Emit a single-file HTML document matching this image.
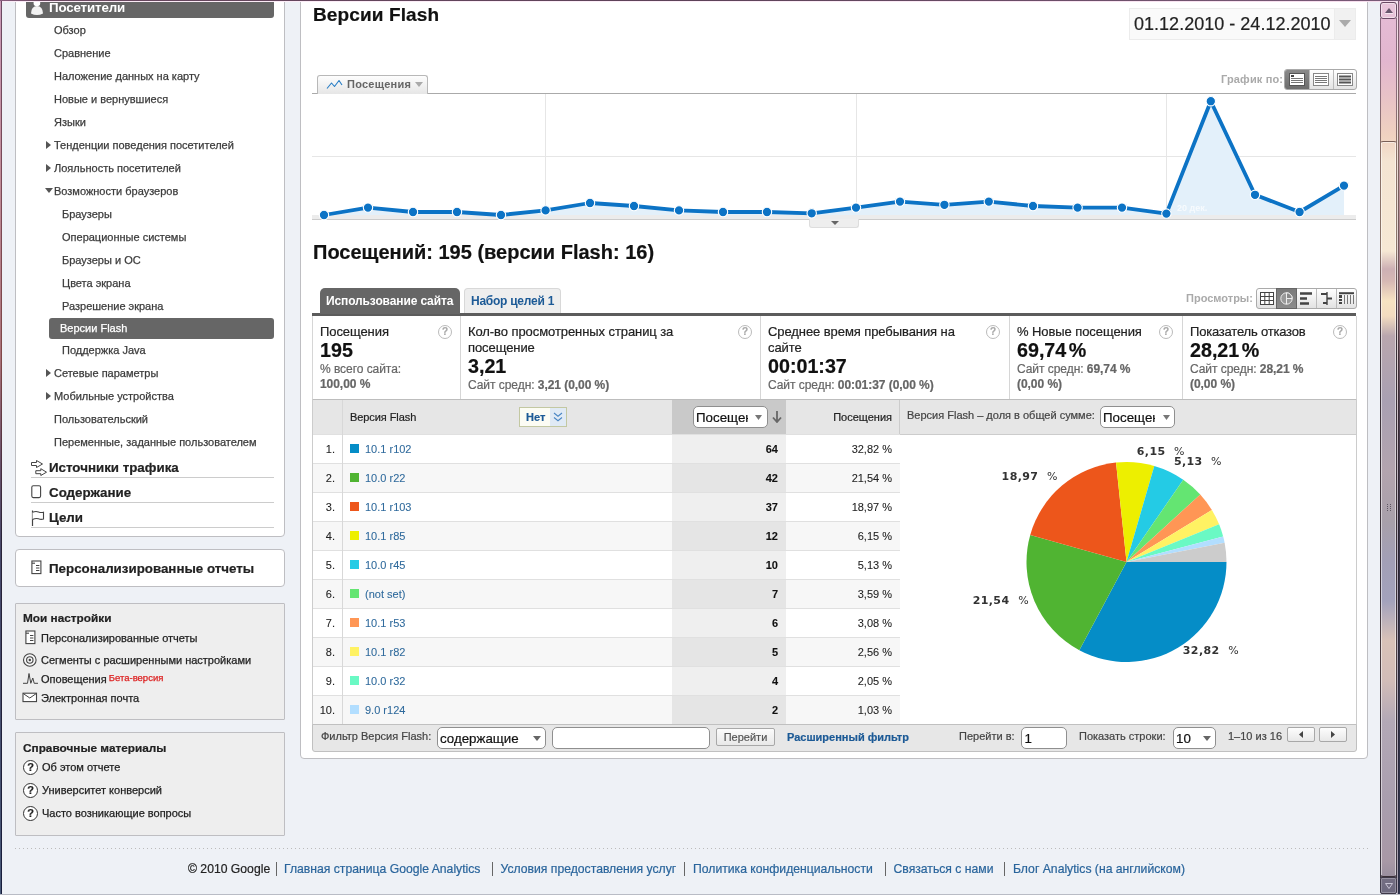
<!DOCTYPE html>
<html lang="ru">
<head>
<meta charset="utf-8">
<title>Версии Flash - Google Analytics</title>
<style>
*{box-sizing:border-box;margin:0;padding:0}
html,body{width:1400px;height:895px;overflow:hidden}
body{position:relative;background:#eef1f6;font-family:"Liberation Sans",Arial,sans-serif;font-size:12px;color:#333;-webkit-text-stroke:.2px}
.abs{position:absolute}
a{color:#1c62a0;text-decoration:none}
/* window frame */
#frameL{left:1px;top:0;width:1px;height:895px;background:linear-gradient(to bottom,#6a4a62 0,#7a4a58 20%,#804848 40%,#4a3040 52%,#2a2438 60%,#181e3c 100%)}
#frameL2{left:0;top:0;width:1px;height:895px;background:linear-gradient(to bottom,#c99ab8 0,#c08c98 20%,#a87078 40%,#66506a 52%,#46486a 62%,#485878 100%)}
#frameT{left:0;top:0;width:1400px;height:1px;background:linear-gradient(to right,#8a6080,#6a4860 3%,#5c4258 50%,#7a5a78)}
#frameT2{left:2px;top:1px;width:1396px;height:1px;background:linear-gradient(to right,#fbeaf6,#fdeef8 50%,#f6dcec)}
#frameB{left:0;top:894px;width:1400px;height:1px;background:#b9bcc5}
#frameR{left:1398px;top:0;width:1px;height:895px;background:linear-gradient(to bottom,#7a5870,#806860 15%,#6a5058 32%,#403038 40%,#2a2430 60%,#2a2c44)}
#frameR3{left:1399px;top:0;width:1px;height:895px;background:linear-gradient(to bottom,#d8a8c8 0,#c8a0a8 15%,#a07880 32%,#504050 45%,#3a3448 60%,#30344c)}
#frameR2{left:1397px;top:1px;width:1px;height:893px;background:linear-gradient(to bottom,#f6dcea,#f0e0d8 15%,#d8c8cc 40%,#b0a8b8 60%,#a8a0b0)}
/* scrollbar */
#sb{left:1381px;top:1px;width:15px;height:893px;
background:linear-gradient(to bottom,#e6bdd6 0,#e2b6cf 60px,#e9c4c6 100px,#f0d2c0 135px,#f4e4d2 160px,#f6e8d4 250px,#cdb0b4 268px,#d6b8b4 280px,#f7e3c2 300px,#f3dcc0 315px,#b9a6ae 335px,#a9a0b2 400px,#b3a4ae 470px,#a8a0aa 520px,#a29fb6 560px,#a3a2bc 600px,#d9c2b8 640px,#d2bcb8 680px,#b3a8b6 720px,#a99eae 800px,#a898a6 860px,#8a8496 893px)}
.sbB{top:18px;width:1px;height:860px;background:linear-gradient(to bottom,#8a6a80 0,#8a6c78 83px,#8a7068 128px,#8a7468 233px,#5a4850 273px,#3a3038 323px,#3a3038 583px,#4a3c40 633px,#3a3038 703px,#3a3440 860px)}
.sbH{top:142px;width:1px;height:733px;background:rgba(255,255,255,.5)}
#sbThumb{left:1380px;top:141px;width:17px;height:736px;border:1px solid transparent;border-top-color:#7a6058;border-bottom-color:#3a3038;border-radius:3px;box-shadow:inset 0 1px 0 rgba(255,255,255,.5)}
#sbUp{left:1380px;top:2px;width:17px;height:17px;border:1px solid #6a4a64;border-radius:3px;box-shadow:inset 0 0 0 1px rgba(255,255,255,.45);background:rgba(255,255,255,.12)}
#sbDn{left:1380px;top:877px;width:17px;height:17px;border:1px solid #3e3848;border-radius:2px;background:rgba(80,78,104,.5);box-shadow:inset 0 0 0 1px rgba(255,255,255,.25)}
/* sidebar */
.panel{border:1px solid #bebec2;border-radius:4px;background:#fff}
#nav{left:15px;top:-10px;width:270px;height:547px}
#navHead{left:26px;top:2px;width:248px;height:16px;background:#666;border-radius:0 0 3px 3px;color:#fff;font-weight:bold;font-size:13.33px}
.ni{left:54px;font-size:11px;color:#3c3c3c;white-space:nowrap;line-height:14px;-webkit-text-stroke-width:.25px}
.ni.s{left:62px}
.tri{left:46px;width:0;height:0;border-style:solid}
.tri.r{border-width:4px 0 4px 5px;border-color:transparent transparent transparent #555}
.tri.d{border-width:5px 4px 0 4px;border-color:#555 transparent transparent transparent}
.sec{left:49px;font-size:13.33px;font-weight:bold;color:#222;white-space:nowrap;line-height:16px}
.secline{left:31px;width:243px;height:1px;background:#ccc}
.hq{width:15px;height:15px;border:1px solid #333;border-radius:50%;background:#fff;color:#222;font-size:11px;font-weight:bold;line-height:13px;text-align:center}
.pt{left:23px;font-weight:bold;font-size:11.8px;color:#222;line-height:14px;white-space:nowrap}
/* main */
#main{left:300px;top:-10px;width:1068px;height:769px}
h1,h2{font-size:20px;font-weight:bold;color:#111;white-space:nowrap;line-height:20px}
</style>
</head>
<body>
<!-- page panels -->
<div id="nav" class="abs panel"></div>
<div id="navHead" class="abs"><span class="abs" style="left:23px;top:-2px;line-height:16px;letter-spacing:-.15px;-webkit-text-stroke:0">Посетители</span>
<svg class="abs" style="left:3px;top:-2px" width="16" height="18" viewBox="0 0 16 18"><path d="M4.6 0H11.2V3.5Q11.2 6.2 7.9 6.2Q4.6 6.2 4.6 3.5Z" fill="#fff"/><path d="M2 13.5Q2.3 6 8 6Q13.7 6 14 13.5Q8 16.6 2 13.5Z" fill="#f2f2f2"/></svg></div>

<div class="abs ni" style="top:23px">Обзор</div>
<div class="abs ni" style="top:46px">Сравнение</div>
<div class="abs ni" style="top:69px">Наложение данных на карту</div>
<div class="abs ni" style="top:92px">Новые и вернувшиеся</div>
<div class="abs ni" style="top:115px">Языки</div>
<div class="abs tri r" style="top:141px"></div><div class="abs ni" style="top:138px">Тенденции поведения посетителей</div>
<div class="abs tri r" style="top:164px"></div><div class="abs ni" style="top:161px">Лояльность посетителей</div>
<div class="abs tri d" style="top:188px;left:45px"></div><div class="abs ni" style="top:184px">Возможности браузеров</div>
<div class="abs ni s" style="top:207px">Браузеры</div>
<div class="abs ni s" style="top:230px">Операционные системы</div>
<div class="abs ni s" style="top:253px">Браузеры и ОС</div>
<div class="abs ni s" style="top:276px">Цвета экрана</div>
<div class="abs ni s" style="top:299px">Разрешение экрана</div>
<div class="abs" style="left:49px;top:318px;width:225px;height:21px;background:#666;border-radius:3px"></div>
<div class="abs ni" style="left:60px;top:321px;color:#fff">Версии Flash</div>
<div class="abs ni s" style="top:343px">Поддержка Java</div>
<div class="abs tri r" style="top:369px"></div><div class="abs ni" style="top:366px">Сетевые параметры</div>
<div class="abs tri r" style="top:392px"></div><div class="abs ni" style="top:389px">Мобильные устройства</div>
<div class="abs ni" style="top:412px">Пользовательский</div>
<div class="abs ni" style="top:435px">Переменные, заданные пользователем</div>

<div class="abs sec" style="top:460px">Источники трафика</div><div class="abs secline" style="top:477px"></div>
<div class="abs sec" style="top:485px">Содержание</div><div class="abs secline" style="top:502px"></div>
<div class="abs sec" style="top:510px">Цели</div><div class="abs secline" style="top:527px"></div>

<svg class="abs" style="left:30px;top:459px" width="18" height="18" viewBox="0 0 18 18"><path d="M1.5 3.5H6.5V1.5L12.5 5L6.5 8.5V6.5H1.5Z M5.8 11.7H10.8V9.7L16.5 13.2L10.8 16.5V14.7H5.8Z" fill="#fff" stroke="#444" stroke-width="1" stroke-linejoin="round"/></svg>
<svg class="abs" style="left:31px;top:485px" width="11" height="14" viewBox="0 0 11 14"><rect x=".8" y=".8" width="8.8" height="11.8" rx="1.5" fill="#fff" stroke="#444" stroke-width="1.1"/></svg>
<svg class="abs" style="left:30px;top:509px" width="16" height="18" viewBox="0 0 16 18"><path d="M2.5 1.5V17" stroke="#444" stroke-width="1.2" fill="none"/><path d="M2.5 3.2Q6 2 8.5 3Q11 4 13.5 3.2V10Q11 10.8 8.5 9.8Q6 8.8 2.5 10.5" fill="#fff" stroke="#444" stroke-width="1.1"/></svg>
<!-- custom reports panel -->
<div class="abs panel" style="left:15px;top:549px;width:270px;height:38px"></div>
<div class="abs sec" style="top:561px">Персонализированные отчеты</div>

<!-- settings panel -->
<div class="abs panel" style="left:15px;top:603px;width:270px;height:117px;background:#eee;border-radius:1px"></div>
<div class="abs pt" style="top:611px">Мои настройки</div>
<div class="abs ni" style="left:41px;top:631px;color:#222">Персонализированные отчеты</div>
<div class="abs ni" style="left:41px;top:653px;color:#222">Сегменты с расширенными настройками</div>
<div class="abs ni" style="left:41px;top:672px;color:#222">Оповещения <span style="font-size:9.5px;color:#d22;position:relative;top:-2px;left:-1px">Бета-версия</span></div>
<div class="abs ni" style="left:41px;top:691px;color:#222">Электронная почта</div>

<svg class="abs" style="left:25px;top:630px" width="11" height="15" viewBox="0 0 11 15"><rect x=".9" y="1" width="9" height="12.6" fill="#fff" stroke="#444" stroke-width="1.1"/><path d="M1 3.2H4" stroke="#444" stroke-width="1.1"/><path d="M5 5.5H8.4M5 8H8.4M5 10.5H8.4" stroke="#444" stroke-width="1"/></svg>
<svg class="abs" style="left:22px;top:652px" width="16" height="16" viewBox="0 0 16 16"><circle cx="7.8" cy="8" r="6.3" fill="#f6f6f6" stroke="#444" stroke-width="1.1"/><circle cx="7.8" cy="8" r="3.2" fill="none" stroke="#444" stroke-width="1.1"/><circle cx="7.8" cy="8" r="1.2" fill="#444"/></svg>
<svg class="abs" style="left:22px;top:671px" width="17" height="14" viewBox="0 0 17 14"><path d="M1 12.3H5.5L7 2.5L8.8 12.3L10.8 7L12.2 12.3H16" fill="none" stroke="#444" stroke-width="1"/></svg>
<svg class="abs" style="left:22px;top:692px" width="16" height="11" viewBox="0 0 16 11"><rect x="1" y="1.2" width="13.5" height="8.4" fill="#fff" stroke="#444" stroke-width="1.1"/><path d="M1.3 1.6L7.8 6L14.2 1.6" fill="none" stroke="#444" stroke-width="1"/></svg>
<svg class="abs" style="left:31px;top:560px" width="11" height="15" viewBox="0 0 11 15"><rect x=".9" y="1" width="9" height="12.6" fill="#fff" stroke="#444" stroke-width="1.1"/><path d="M1 3.2H4" stroke="#444" stroke-width="1.1"/><path d="M5 5.5H8.4M5 8H8.4M5 10.5H8.4" stroke="#444" stroke-width="1"/></svg>
<!-- help panel -->
<div class="abs panel" style="left:15px;top:732px;width:270px;height:104px;background:#eee;border-radius:1px"></div>
<div class="abs pt" style="top:741px">Справочные материалы</div>
<div class="abs ni" style="left:42px;top:760px;color:#222">Об этом отчете</div>
<div class="abs ni" style="left:42px;top:783px;color:#222">Университет конверсий</div>
<div class="abs ni" style="left:42px;top:806px;color:#222">Часто возникающие вопросы</div>

<div class="abs hq" style="left:23px;top:760px">?</div>
<div class="abs hq" style="left:23px;top:783px">?</div>
<div class="abs hq" style="left:23px;top:806px">?</div>
<!-- main panel -->
<div id="main" class="abs panel"></div>
<h1 class="abs" style="left:313px;top:5px;font-size:19px;letter-spacing:.12px">Версии Flash</h1>
<h2 class="abs" style="left:313px;top:242px">Посещений: 195 (версии Flash: 16)</h2>

<!--MAIN-CONTENT-->
<!-- date range -->
<div class="abs" style="left:1129px;top:8px;width:227px;height:32px;border:1px solid #ececec;background:#fafafa"></div>
<div class="abs" style="left:1334px;top:9px;width:21px;height:30px;background:#f1f1f1;border-left:1px solid #ececec"></div>
<div class="abs" style="left:1134px;top:14px;font-size:18px;line-height:21px;color:#222;white-space:nowrap;letter-spacing:.02px">01.12.2010 - 24.12.2010</div>
<svg class="abs" style="left:1339px;top:20px" width="12" height="7" viewBox="0 0 12 7"><path d="M0 0H12L6 7Z" fill="#aaa"/></svg>

<!-- chart -->
<div class="abs" style="left:312px;top:93px;width:1044px;height:1px;background:#aaa"></div>
<div class="abs" style="left:317px;top:75px;width:111px;height:19px;border:1px solid #b8b8b8;border-bottom:0;border-radius:3px 3px 0 0;background:linear-gradient(#fdfdfd,#e6e6e6)"></div>
<svg class="abs" style="left:326px;top:79px" width="17" height="11" viewBox="0 0 17 11"><path d="M1 9.5 L5.5 4 L8.5 7.5 L13 1.5 L16 6" fill="none" stroke="#2b7fc6" stroke-width="1.15" stroke-linejoin="round"/></svg>
<div class="abs" style="left:347px;top:77px;font-size:11px;font-weight:bold;color:#666;line-height:14px;white-space:nowrap;letter-spacing:.25px;-webkit-text-stroke:0">Посещения</div>
<svg class="abs" style="left:415px;top:82px" width="8" height="5" viewBox="0 0 8 5"><path d="M0 0H8L4 5Z" fill="#aaa"/></svg>
<div class="abs" style="left:1221px;top:72px;-webkit-text-stroke:0;font-size:11px;font-weight:bold;color:#aaa;line-height:14px;white-space:nowrap;letter-spacing:.15px">График по:</div>
<div class="abs" style="left:1284px;top:69px;width:73px;height:21px;border:1px solid #aaa;border-radius:3px;background:linear-gradient(#fff,#e4e4e4)"></div>
<div class="abs" style="left:1285px;top:70px;width:24px;height:19px;background:linear-gradient(#8a8a8a,#6e6e6e);border-radius:2px 0 0 2px"></div>
<div class="abs" style="left:1309px;top:70px;width:1px;height:19px;background:#bbb"></div>
<div class="abs" style="left:1333px;top:70px;width:1px;height:19px;background:#bbb"></div>
<svg class="abs" style="left:1289px;top:73px" width="16" height="13" viewBox="0 0 16 13"><rect x=".5" y=".5" width="15" height="12" fill="#fff" stroke="#555"/><rect x="2" y="2" width="3" height="2" fill="#444"/><path d="M2 5.5H14M2 7.5H14M2 9.5H14" stroke="#777" stroke-width="1"/></svg>
<svg class="abs" style="left:1313px;top:73px" width="16" height="13" viewBox="0 0 16 13"><rect x=".5" y=".5" width="15" height="12" fill="#fff" stroke="#888"/><path d="M2 3.5H14M2 5.5H14M2 7.5H14M2 9.5H14" stroke="#777" stroke-width="1"/></svg>
<svg class="abs" style="left:1337px;top:73px" width="16" height="13" viewBox="0 0 16 13"><rect x=".5" y=".5" width="15" height="12" fill="#fff" stroke="#888"/><path d="M2 3.5H14M2 6.5H14M2 9.5H14" stroke="#555" stroke-width="2"/></svg>

<svg class="abs" style="left:312px;top:93px" width="1044" height="136" viewBox="0 0 1044 136"><path d="M0 63.5H1044" stroke="#e6e6e6" stroke-width="1"/><path d="M233.5 1V122" stroke="#e6e6e6" stroke-width="1"/><path d="M544.5 1V122" stroke="#e6e6e6" stroke-width="1"/><path d="M854.5 1V122" stroke="#e6e6e6" stroke-width="1"/><rect x="0" y="122" width="1044" height="4" fill="#ececec"/><rect x="0" y="126" width="1044" height="1" fill="#ccc"/><path d="M12 122 L56 114.6 L101 119 L145 119 L189 122 L233.6 117.4 L278 110 L322 113 L367 117.4 L411 119 L455 119 L499.7 120.3 L544 114.6 L588 108.6 L632.4 111.8 L676.8 108.6 L721 113 L765.6 114.6 L810 114.6 L854.4 120.6 L898.8 8.2 L943 101.8 L987.6 119 L1032 92.6 L1032 122 L12 122 Z" fill="#e3f0fa"/><path d="M12 122 L56 114.6 L101 119 L145 119 L189 122 L233.6 117.4 L278 110 L322 113 L367 117.4 L411 119 L455 119 L499.7 120.3 L544 114.6 L588 108.6 L632.4 111.8 L676.8 108.6 L721 113 L765.6 114.6 L810 114.6 L854.4 120.6 L898.8 8.2 L943 101.8 L987.6 119 L1032 92.6" fill="none" stroke="#0c73c5" stroke-width="3.8" stroke-linejoin="round" stroke-linecap="round"/><circle cx="12" cy="122" r="4.7" fill="#0c73c5" stroke="#fff" stroke-width="1.1"/><circle cx="56" cy="114.6" r="4.7" fill="#0c73c5" stroke="#fff" stroke-width="1.1"/><circle cx="101" cy="119" r="4.7" fill="#0c73c5" stroke="#fff" stroke-width="1.1"/><circle cx="145" cy="119" r="4.7" fill="#0c73c5" stroke="#fff" stroke-width="1.1"/><circle cx="189" cy="122" r="4.7" fill="#0c73c5" stroke="#fff" stroke-width="1.1"/><circle cx="233.6" cy="117.4" r="4.7" fill="#0c73c5" stroke="#fff" stroke-width="1.1"/><circle cx="278" cy="110" r="4.7" fill="#0c73c5" stroke="#fff" stroke-width="1.1"/><circle cx="322" cy="113" r="4.7" fill="#0c73c5" stroke="#fff" stroke-width="1.1"/><circle cx="367" cy="117.4" r="4.7" fill="#0c73c5" stroke="#fff" stroke-width="1.1"/><circle cx="411" cy="119" r="4.7" fill="#0c73c5" stroke="#fff" stroke-width="1.1"/><circle cx="455" cy="119" r="4.7" fill="#0c73c5" stroke="#fff" stroke-width="1.1"/><circle cx="499.7" cy="120.3" r="4.7" fill="#0c73c5" stroke="#fff" stroke-width="1.1"/><circle cx="544" cy="114.6" r="4.7" fill="#0c73c5" stroke="#fff" stroke-width="1.1"/><circle cx="588" cy="108.6" r="4.7" fill="#0c73c5" stroke="#fff" stroke-width="1.1"/><circle cx="632.4" cy="111.8" r="4.7" fill="#0c73c5" stroke="#fff" stroke-width="1.1"/><circle cx="676.8" cy="108.6" r="4.7" fill="#0c73c5" stroke="#fff" stroke-width="1.1"/><circle cx="721" cy="113" r="4.7" fill="#0c73c5" stroke="#fff" stroke-width="1.1"/><circle cx="765.6" cy="114.6" r="4.7" fill="#0c73c5" stroke="#fff" stroke-width="1.1"/><circle cx="810" cy="114.6" r="4.7" fill="#0c73c5" stroke="#fff" stroke-width="1.1"/><circle cx="854.4" cy="120.6" r="4.7" fill="#0c73c5" stroke="#fff" stroke-width="1.1"/><circle cx="898.8" cy="8.2" r="4.7" fill="#0c73c5" stroke="#fff" stroke-width="1.1"/><circle cx="943" cy="101.8" r="4.7" fill="#0c73c5" stroke="#fff" stroke-width="1.1"/><circle cx="987.6" cy="119" r="4.7" fill="#0c73c5" stroke="#fff" stroke-width="1.1"/><circle cx="1032" cy="92.6" r="4.7" fill="#0c73c5" stroke="#fff" stroke-width="1.1"/><text x="865" y="117.5" font-size="9" font-weight="bold" fill="#fff" opacity=".7" stroke="none" font-family="Liberation Sans,sans-serif">20 дек.</text></svg>
<div class="abs" style="left:809px;top:219px;width:50px;height:9px;background:#eee;border:1px solid #ddd;border-top:0;border-radius:0 0 3px 3px"></div>
<svg class="abs" style="left:831px;top:221px" width="8" height="4" viewBox="0 0 8 4"><path d="M0 0H8L4 4Z" fill="#666"/></svg>

<!-- tabs -->
<div class="abs" style="left:312px;top:313px;width:1044px;height:3px;background:#5c5c5c"></div>
<div class="abs" style="left:320px;top:288px;width:140px;height:26px;background:#666;border-radius:5px 5px 0 0"></div>
<div class="abs" style="left:326px;top:294px;-webkit-text-stroke:0;font-size:12px;font-weight:bold;color:#fff;line-height:15px;white-space:nowrap;letter-spacing:-.12px" id="tab1">Использование сайта</div>
<div class="abs" style="left:464px;top:288px;width:97px;height:25px;background:#eee;border:1px solid #d8d8d8;border-bottom:0;border-radius:4px 4px 0 0"></div>
<div class="abs" style="left:471px;top:294px;-webkit-text-stroke:0;font-size:12px;font-weight:bold;color:#1c5a96;line-height:15px;white-space:nowrap;letter-spacing:-.25px" id="tab2">Набор целей 1</div>
<div class="abs" style="left:1186px;top:291px;-webkit-text-stroke:0;font-size:11px;font-weight:bold;color:#aaa;line-height:14px;white-space:nowrap">Просмотры:</div>
<div class="abs" style="left:1256px;top:288px;width:101px;height:21px;border:1px solid #aaa;border-radius:3px;background:linear-gradient(#fff,#e2e2e2)"></div>
<div class="abs" style="left:1276px;top:288px;width:21px;height:21px;background:linear-gradient(#7a7a7a,#8c8c8c);border:1px solid #666"></div>
<div class="abs" style="left:1316px;top:289px;width:1px;height:19px;background:#bbb"></div>
<div class="abs" style="left:1336px;top:289px;width:1px;height:19px;background:#bbb"></div>
<svg class="abs" style="left:1260px;top:292px" width="14" height="13" viewBox="0 0 14 13"><rect x=".5" y=".5" width="13" height="12" fill="#fff" stroke="#444"/><path d="M.5 4.5H13.5M.5 8.5H13.5M4.8 .5V12.5M9.2 .5V12.5" stroke="#444" stroke-width="1"/></svg>
<svg class="abs" style="left:1280px;top:292px" width="13" height="13" viewBox="0 0 13 13"><circle cx="6.5" cy="6.5" r="5.7" fill="#999" stroke="#eee" stroke-width="1"/><path d="M6.5 6.5V.8A5.7 5.7 0 0 1 12.2 6.5Z" fill="#888" stroke="#eee" stroke-width="1"/><path d="M6.5 .8V12.2" stroke="#eee" stroke-width="1"/></svg>
<svg class="abs" style="left:1300px;top:292px" width="13" height="13" viewBox="0 0 13 13"><path d="M0 1.5H12M0 6.5H7M0 11.5H9" stroke="#444" stroke-width="2.4"/></svg>
<svg class="abs" style="left:1320px;top:292px" width="13" height="13" viewBox="0 0 13 13"><path d="M7 0V13" stroke="#444" stroke-width="1.4"/><path d="M1 2H7M7 6.5H12M3 11H7" stroke="#444" stroke-width="2"/></svg>
<svg class="abs" style="left:1339px;top:292px" width="15" height="13" viewBox="0 0 15 13"><path d="M0 1.2H15" stroke="#444" stroke-width="2"/><path d="M1.5 3V6M1.5 7V9M1.5 10V12" stroke="#444" stroke-width="3" /><path d="M5.5 3V12M8.5 3V12M11.5 3V12M14.5 3V12" stroke="#777" stroke-width="1"/></svg>

<!-- metrics -->
<style>
.mb{top:316px;height:83px;border-left:1px solid #d6d6d6;padding:8px 0 0 7px;background:#fff}
.mb .l{font-size:13px;line-height:16px;color:#222;letter-spacing:-.08px}
.mb .v{font-size:19.7px;line-height:21px;font-weight:bold;color:#111;word-spacing:-3px}
.mb .s{font-size:12px;line-height:14.5px;color:#666;letter-spacing:-.05px;margin-top:1px}
.mb .s b{color:#666}
.q{width:14px;height:14px;border:1px solid #bbb;border-radius:50%;color:#aaa;font-size:10px;font-weight:bold;line-height:12px;text-align:center;background:#fff}
</style>
<div class="abs mb" style="left:312px;width:148px"><div class="l">Посещения</div><div class="v">195</div><div class="s">% всего сайта:<br><b>100,00 %</b></div></div>
<div class="abs mb" style="left:460px;width:300px"><div class="l">Кол-во просмотренных страниц за<br>посещение</div><div class="v">3,21</div><div class="s">Сайт средн: <b>3,21 (0,00 %)</b></div></div>
<div class="abs mb" style="left:760px;width:249px"><div class="l">Среднее время пребывания на<br>сайте</div><div class="v">00:01:37</div><div class="s">Сайт средн: <b>00:01:37 (0,00 %)</b></div></div>
<div class="abs mb" style="left:1009px;width:173px"><div class="l">% Новые посещения</div><div class="v">69,74 %</div><div class="s">Сайт средн: <b>69,74 %<br>(0,00 %)</b></div></div>
<div class="abs mb" style="left:1182px;width:175px;border-right:1px solid #d6d6d6"><div class="l" style="letter-spacing:-.2px">Показатель отказов</div><div class="v">28,21 %</div><div class="s">Сайт средн: <b>28,21 %<br>(0,00 %)</b></div></div>
<div class="abs q" style="left:438px;top:325px">?</div>
<div class="abs q" style="left:738px;top:325px">?</div>
<div class="abs q" style="left:986px;top:325px">?</div>
<div class="abs q" style="left:1159px;top:325px">?</div>
<div class="abs q" style="left:1333px;top:325px">?</div>

<!-- table -->
<style>
.th{top:399px;height:35px;background:#e6e6e6;border-top:1px solid #bdbdbd}
.row{left:313px;width:587px;height:29px;border-top:1px solid #e0e0e0;-webkit-text-stroke:.08px;font-size:11px;line-height:14px;color:#222}
.row .n{position:absolute;right:565px;top:7px;white-space:nowrap}
.row .sw{position:absolute;left:37px;top:9px;width:9px;height:9px}
.row .nm{position:absolute;left:52px;top:7px;color:#2f6a9c;white-space:nowrap}
.row .vc{position:absolute;left:359px;top:0;width:114px;height:28px}
.row .vv{position:absolute;right:122px;top:7px;font-weight:bold;color:#111}
.row .pc{position:absolute;right:8px;top:7px;white-space:nowrap}
.sel{background:#fff;border:1px solid #8f8f8f;border-radius:5px;font-size:13.33px;line-height:15px;color:#111;white-space:nowrap;overflow:hidden}
</style>
<div class="abs th" style="left:312px;width:1045px"></div>
<div class="abs" style="left:672px;top:400px;width:114px;height:34px;background:#c9c9c9"></div>
<div class="abs" style="left:899px;top:400px;width:1px;height:325px;background:#ccc"></div>
<div class="abs" style="left:312px;top:399px;width:1px;height:326px;background:#ccc"></div>
<div class="abs" style="left:1356px;top:399px;width:1px;height:326px;background:#ccc"></div>
<div class="abs" style="left:900px;top:434px;width:456px;height:1px;background:#ccc"></div>
<div class="abs" style="left:350px;top:410px;font-size:11px;line-height:14px;color:#222;white-space:nowrap;letter-spacing:-.08px">Версия Flash</div>
<div class="abs" style="left:519px;top:407px;width:48px;height:20px;border:1px solid #c3c8a2;background:#fcfcf4"></div>
<div class="abs" style="left:550px;top:408px;width:16px;height:18px;background:#e0eaf5"></div>
<div class="abs" style="left:526px;top:410px;font-size:11px;font-weight:bold;line-height:14px;color:#1c5a96">Нет</div>
<svg class="abs" style="left:553px;top:412px" width="10" height="10" viewBox="0 0 10 10"><path d="M1 1L5 4.2L9 1M1 5.5L5 8.7L9 5.5" fill="none" stroke="#4a86c4" stroke-width="1.1"/></svg>
<div class="abs sel" style="left:693px;top:406px;width:75px;height:22px;padding:3px 0 0 2px"><span style="display:inline-block;width:52px;overflow:hidden;vertical-align:top">Посещения</span></div>
<svg class="abs" style="left:755px;top:415px" width="7" height="5" viewBox="0 0 7 5"><path d="M0 0H7L3.5 5Z" fill="#777"/></svg>
<svg class="abs" style="left:772px;top:411px" width="10" height="12" viewBox="0 0 10 12"><path d="M5 0V10M1 6.5L5 11L9 6.5" fill="none" stroke="#666" stroke-width="1.8"/></svg>
<div class="abs" style="left:786px;top:410px;width:106px;text-align:right;font-size:11px;line-height:14px;color:#222;white-space:nowrap">Посещения</div>
<div class="abs" style="left:907px;top:408px;font-size:11px;line-height:14px;color:#444;white-space:nowrap">Версия Flash – доля в общей сумме:</div>
<div class="abs sel" style="left:1100px;top:406px;width:75px;height:22px;padding:3px 0 0 2px"><span style="display:inline-block;width:52px;overflow:hidden;vertical-align:top">Посещения</span></div>
<svg class="abs" style="left:1163px;top:415px" width="7" height="5" viewBox="0 0 7 5"><path d="M0 0H7L3.5 5Z" fill="#777"/></svg>

<div class="abs row" style="top:434px;background:#fff"><div class="vc" style="background:#efefef"></div><span class="n">1.</span><span class="sw" style="background:#058dc7"></span><span class="nm">10.1 r102</span><span class="vv">64</span><span class="pc">32,82 %</span></div>
<div class="abs row" style="top:463px;background:#f7f7f7"><div class="vc" style="background:#e5e5e5"></div><span class="n">2.</span><span class="sw" style="background:#50b432"></span><span class="nm">10.0 r22</span><span class="vv">42</span><span class="pc">21,54 %</span></div>
<div class="abs row" style="top:492px;background:#fff"><div class="vc" style="background:#efefef"></div><span class="n">3.</span><span class="sw" style="background:#ed561b"></span><span class="nm">10.1 r103</span><span class="vv">37</span><span class="pc">18,97 %</span></div>
<div class="abs row" style="top:521px;background:#f7f7f7"><div class="vc" style="background:#e5e5e5"></div><span class="n">4.</span><span class="sw" style="background:#edef00"></span><span class="nm">10.1 r85</span><span class="vv">12</span><span class="pc">6,15 %</span></div>
<div class="abs row" style="top:550px;background:#fff"><div class="vc" style="background:#efefef"></div><span class="n">5.</span><span class="sw" style="background:#24cbe5"></span><span class="nm">10.0 r45</span><span class="vv">10</span><span class="pc">5,13 %</span></div>
<div class="abs row" style="top:579px;background:#f7f7f7"><div class="vc" style="background:#e5e5e5"></div><span class="n">6.</span><span class="sw" style="background:#64e572"></span><span class="nm">(not set)</span><span class="vv">7</span><span class="pc">3,59 %</span></div>
<div class="abs row" style="top:608px;background:#fff"><div class="vc" style="background:#efefef"></div><span class="n">7.</span><span class="sw" style="background:#ff9655"></span><span class="nm">10.1 r53</span><span class="vv">6</span><span class="pc">3,08 %</span></div>
<div class="abs row" style="top:637px;background:#f7f7f7"><div class="vc" style="background:#e5e5e5"></div><span class="n">8.</span><span class="sw" style="background:#fff263"></span><span class="nm">10.1 r82</span><span class="vv">5</span><span class="pc">2,56 %</span></div>
<div class="abs row" style="top:666px;background:#fff"><div class="vc" style="background:#efefef"></div><span class="n">9.</span><span class="sw" style="background:#6af9c4"></span><span class="nm">10.0 r32</span><span class="vv">4</span><span class="pc">2,05 %</span></div>
<div class="abs row" style="top:695px;background:#f7f7f7"><div class="vc" style="background:#e5e5e5"></div><span class="n">10.</span><span class="sw" style="background:#b2deff"></span><span class="nm">9.0 r124</span><span class="vv">2</span><span class="pc">1,03 %</span></div>
<div class="abs" style="left:342px;top:400px;width:1px;height:324px;background:#d8d8d8"></div>
<svg class="abs" style="left:900px;top:435px" width="456" height="289" viewBox="900 435 456 289"><path d="M1126.5 562L1226.50 562.00A100 100 0 0 1 1079.32 650.17Z" fill="#058dc7"/><path d="M1126.5 562L1079.32 650.17A100 100 0 0 1 1030.23 534.95Z" fill="#50b432"/><path d="M1126.5 562L1030.23 534.95A100 100 0 0 1 1116.03 462.55Z" fill="#ed561b"/><path d="M1126.5 562L1116.03 462.55A100 100 0 0 1 1154.28 465.94Z" fill="#edef00"/><path d="M1126.5 562L1154.28 465.94A100 100 0 0 1 1183.28 479.68Z" fill="#24cbe5"/><path d="M1126.5 562L1183.28 479.68A100 100 0 0 1 1200.25 494.47Z" fill="#64e572"/><path d="M1126.5 562L1200.25 494.47A100 100 0 0 1 1211.86 509.91Z" fill="#ff9655"/><path d="M1126.5 562L1211.86 509.91A100 100 0 0 1 1219.10 524.25Z" fill="#fff263"/><path d="M1126.5 562L1219.10 524.25A100 100 0 0 1 1223.18 536.46Z" fill="#6af9c4"/><path d="M1126.5 562L1223.18 536.46A100 100 0 0 1 1224.63 542.77Z" fill="#b2deff"/><path d="M1126.5 562L1224.63 542.77A100 100 0 0 1 1226.50 562.00Z" fill="#cccccc"/><text x="1136.8" y="454.5" font-family="DejaVu Sans,sans-serif" font-size="11" font-weight="bold" letter-spacing=".4" fill="#333">6,15</text><text x="1173.8999999999999" y="454.5" font-family="DejaVu Sans,sans-serif" font-size="11" fill="#333">%</text><text x="1173.9" y="464.7" font-family="DejaVu Sans,sans-serif" font-size="11" font-weight="bold" letter-spacing=".4" fill="#333">5,13</text><text x="1211.0" y="464.7" font-family="DejaVu Sans,sans-serif" font-size="11" fill="#333">%</text><text x="1001.6" y="479.5" font-family="DejaVu Sans,sans-serif" font-size="11" font-weight="bold" letter-spacing=".4" fill="#333">18,97</text><text x="1047.1" y="479.5" font-family="DejaVu Sans,sans-serif" font-size="11" fill="#333">%</text><text x="972.7" y="603.9" font-family="DejaVu Sans,sans-serif" font-size="11" font-weight="bold" letter-spacing=".4" fill="#333">21,54</text><text x="1018.2" y="603.9" font-family="DejaVu Sans,sans-serif" font-size="11" fill="#333">%</text><text x="1182.8" y="653.5" font-family="DejaVu Sans,sans-serif" font-size="11" font-weight="bold" letter-spacing=".4" fill="#333">32,82</text><text x="1228.3" y="653.5" font-family="DejaVu Sans,sans-serif" font-size="11" fill="#333">%</text></svg>
<!-- bottom filter bar -->
<div class="abs" style="left:312px;top:724px;width:1045px;height:28px;background:#e7e7e7;border:1px solid #c0c0c0;border-radius:0 0 3px 3px"></div>
<div class="abs" style="left:321px;top:729px;font-size:11px;line-height:14px;color:#444;white-space:nowrap">Фильтр Версия Flash:</div>
<div class="abs sel" style="left:437px;top:727px;width:109px;height:22px;padding:3px 0 0 2px">содержащие</div>
<svg class="abs" style="left:533px;top:736px" width="8" height="5" viewBox="0 0 8 5"><path d="M0 0H8L4 5Z" fill="#666"/></svg>
<div class="abs sel" style="left:552px;top:727px;width:158px;height:22px"></div>
<div class="abs" style="left:716px;top:728px;width:59px;height:18px;border:1px solid #a8a8a8;border-radius:2px;background:linear-gradient(#fbfbfb,#e8e8e8);font-size:11px;line-height:16px;text-align:center;color:#555">Перейти</div>
<div class="abs" style="left:787px;top:730px;font-size:11px;font-weight:bold;line-height:14px;color:#1c5a96;white-space:nowrap">Расширенный фильтр</div>
<div class="abs" style="left:959px;top:729px;font-size:11px;line-height:14px;color:#444;white-space:nowrap">Перейти в:</div>
<div class="abs sel" style="left:1021px;top:727px;width:46px;height:22px;padding:3px 0 0 2.5px">1</div>
<div class="abs" style="left:1079px;top:729px;font-size:11px;line-height:14px;color:#444;white-space:nowrap">Показать строки:</div>
<div class="abs sel" style="left:1173px;top:727px;width:43px;height:22px;padding:3px 0 0 2px">10</div>
<svg class="abs" style="left:1203px;top:736px" width="8" height="5" viewBox="0 0 8 5"><path d="M0 0H8L4 5Z" fill="#666"/></svg>
<div class="abs" style="left:1228px;top:729px;font-size:11px;line-height:14px;color:#444;white-space:nowrap">1–10 из 16</div>
<div class="abs" style="left:1287px;top:727px;width:28px;height:15px;border:1px solid #a8a8a8;border-radius:2px;background:linear-gradient(#fdfdfd,#e8e8e8)"></div>
<div class="abs" style="left:1319px;top:727px;width:28px;height:15px;border:1px solid #a8a8a8;border-radius:2px;background:linear-gradient(#fdfdfd,#e8e8e8)"></div>
<svg class="abs" style="left:1299px;top:731px" width="4" height="7" viewBox="0 0 4 7"><path d="M4 0V7L0 3.5Z" fill="#444"/></svg>
<svg class="abs" style="left:1331px;top:731px" width="4" height="7" viewBox="0 0 4 7"><path d="M0 0V7L4 3.5Z" fill="#444"/></svg>

<!--/MAIN-CONTENT-->

<!-- footer -->
<div class="abs" style="left:15px;top:848px;width:1353px;height:1px;background:repeating-linear-gradient(to right,#bbb 0,#bbb 1px,transparent 1px,transparent 4px)"></div>
<div id="foot"><span class="abs fi" style="left:188px">© 2010 Google</span><a class="abs fi" style="left:284px">Главная страница Google Analytics</a><a class="abs fi" style="left:500.5px">Условия предоставления услуг</a><a class="abs fi" style="left:693px">Политика конфиденциальности</a><a class="abs fi" style="left:893.5px">Связаться с нами</a><a class="abs fi" style="left:1013px">Блог Analytics (на английском)</a><i class="abs" style="left:276px;top:862px;width:1px;height:14px;background:#666"></i><i class="abs" style="left:492px;top:862px;width:1px;height:14px;background:#666"></i><i class="abs" style="left:684px;top:862px;width:1px;height:14px;background:#666"></i><i class="abs" style="left:885px;top:862px;width:1px;height:14px;background:#666"></i><i class="abs" style="left:1004px;top:862px;width:1px;height:14px;background:#666"></i></div>
<style>.fi{top:862px;font-size:12.2px;line-height:15px;white-space:nowrap;color:#222}a.fi{color:#2a659c}</style>

<!-- window frame / scrollbar on top -->
<div id="sb" class="abs"></div>
<div class="abs sbB" style="left:1380px"></div><div class="abs sbB" style="left:1396px"></div>
<div class="abs sbH" style="left:1381px"></div><div class="abs sbH" style="left:1395px"></div>
<svg class="abs" style="left:1387px;top:504px" width="5" height="9" viewBox="0 0 5 9"><path d="M0 .5H2M3 .5H5M0 2.5H2M3 2.5H5M0 4.5H2M3 4.5H5M0 6.5H2M3 6.5H5" stroke="#4a4450" stroke-width="1" stroke-dasharray="1 1" opacity=".8"/></svg>
<div id="sbThumb" class="abs"></div>
<div id="sbUp" class="abs"><svg class="abs" style="left:4px;top:5px" width="8" height="6" viewBox="0 0 8 6"><path d="M0 5 L4 0 L8 5Z" fill="#5a4a60" opacity=".9"/><path d="M0 5.6H8" stroke="#fff" stroke-width=".8" opacity=".8"/></svg></div>
<div id="sbDn" class="abs"><svg class="abs" style="left:4px;top:5px" width="8" height="6" viewBox="0 0 8 6"><path d="M0.5 0.5 L4 5.5 L7.5 0.5Z" fill="none" stroke="#c8c4d4" stroke-width="1"/></svg></div>
<div id="frameR" class="abs"></div>
<div id="frameR3" class="abs"></div>
<div id="frameL" class="abs"></div>
<div id="frameL2" class="abs"></div>
<div id="frameT" class="abs"></div>
<div id="frameB" class="abs"></div>
<div id="frameT2" class="abs"></div>
<div id="frameR2" class="abs"></div>
</body>
</html>
